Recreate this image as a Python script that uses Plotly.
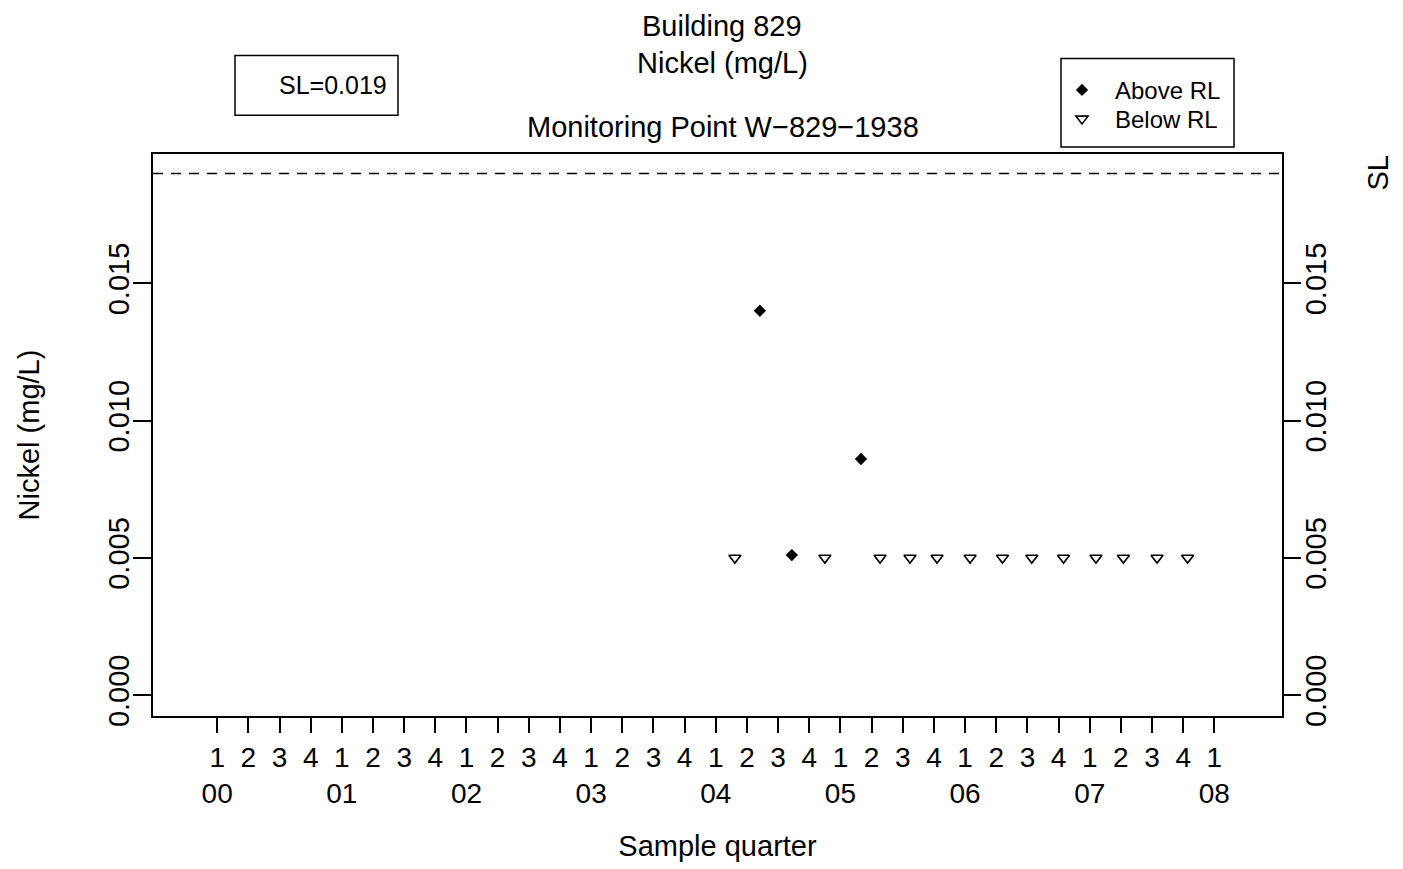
import plotly.graph_objects as go

# ---- data ----
title_line1 = "Building 829"
title_line2 = "Nickel (mg/L)"
subtitle = "Monitoring Point W\u2212829\u22121938"
sl_value = 0.019

above_x = [2004.354, 2004.61, 2005.165]
above_y = [0.014, 0.0051, 0.0086]

below_x = [2004.153, 2004.875, 2005.318, 2005.558, 2005.775, 2006.04, 2006.30,
           2006.535, 2006.79, 2007.05, 2007.27, 2007.54, 2007.785]
below_y = [0.005] * 13

years = ["00", "01", "02", "03", "04", "05", "06", "07", "08"]
quarters = ["1", "2", "3", "4"]
y_ticks = [0.0, 0.005, 0.010, 0.015]
y_ticktext = ["0.000", "0.005", "0.010", "0.015"]

# ---- tick construction ----
tickvals, ticktext = [], []
for i, yr in enumerate(years):
    for q in range(4):
        if i == len(years) - 1 and q > 0:
            break
        tickvals.append(2000 + i + q * 0.25)
        ticktext.append(quarters[q] + ("<br>" + yr if q == 0 else ""))

FONT = "Liberation Sans, Arial, Helvetica, sans-serif"
W, H = 1403, 869
L, R, T, B = 153, 121, 154, 150
pw, ph = W - L - R, H - T - B


def px(x):
    return (x - L) / pw


def py(y):
    return (H - B - y) / ph


fig = go.Figure()
fig.add_trace(go.Scatter(
    x=above_x, y=above_y, mode="markers", name="Above RL", legend="legend",
    marker=dict(symbol="diamond", size=9.5, color="black"),
))
fig.add_trace(go.Scatter(
    x=below_x, y=below_y, mode="markers", name="Below RL", legend="legend2",
    marker=dict(symbol="triangle-down-open", size=10.5, color="black",
                line=dict(width=1.6, color="black")),
))
# dummy trace for right axis
fig.add_trace(go.Scatter(x=[None], y=[None], yaxis="y2", showlegend=False, hoverinfo="skip"))

yr = [-0.00076, 0.01971]
leg_common = dict(xanchor="left", yanchor="middle", bgcolor="rgba(0,0,0,0)",
                  borderwidth=0, font=dict(size=24), itemwidth=56)

fig.update_layout(
    width=W, height=H,
    margin=dict(l=L, r=R, t=T, b=B),
    paper_bgcolor="white", plot_bgcolor="white",
    font=dict(family=FONT, size=29, color="black"),
    xaxis=dict(
        range=[1999.485, 2008.5425], tickmode="array", tickvals=tickvals, ticktext=ticktext,
        ticks="outside", ticklen=15, tickwidth=1.5, tickcolor="black",
        showline=True, linecolor="black", linewidth=1.8, mirror=True,
        showgrid=False, zeroline=False,
        tickfont=dict(size=28), tickangle=0,
        title=dict(text="Sample quarter", font=dict(size=29), standoff=28),
    ),
    yaxis=dict(
        range=yr, tickmode="array", tickvals=y_ticks, ticktext=y_ticktext,
        ticks="outside", ticklen=18, tickwidth=1.5, tickcolor="black",
        showline=True, linecolor="black", linewidth=1.8, mirror=True,
        showgrid=False, zeroline=False, tickangle=-90,
        tickfont=dict(size=29), ticklabelstandoff=-7,
        title=dict(text="Nickel (mg/L)", font=dict(size=29), standoff=54),
    ),
    yaxis2=dict(
        range=yr, overlaying="y", side="right", tickmode="array",
        tickvals=y_ticks, ticktext=y_ticktext,
        ticks="outside", ticklen=18, tickwidth=1.5, tickcolor="black",
        showline=False, showgrid=False, zeroline=False, tickangle=-90,
        tickfont=dict(size=29), ticklabelstandoff=-10,
    ),
    legend=dict(x=px(1049), y=py(90), **leg_common),
    legend2=dict(x=px(1049), y=py(119), **leg_common),
    showlegend=True,
)

# SL dashed line
fig.add_shape(type="line", xref="paper", x0=0, x1=1, yref="y", y0=sl_value, y1=sl_value,
              line=dict(color="black", width=1.3, dash="10px,8px"))

# legend box
fig.add_shape(type="rect", xref="paper", yref="paper",
              x0=px(1061), x1=px(1234), y0=py(147), y1=py(58),
              line=dict(color="black", width=1.5))
# SL box
fig.add_shape(type="rect", xref="paper", yref="paper",
              x0=px(235), x1=px(398), y0=py(115), y1=py(55),
              line=dict(color="black", width=1.5))
fig.add_annotation(xref="paper", yref="paper", x=px(389), y=py(85),
                   xanchor="right", yanchor="middle", showarrow=False,
                   text=f"SL={sl_value}", font=dict(size=25))

# titles
fig.add_annotation(xref="paper", yref="paper", x=px(722), y=py(25),
                   xanchor="center", yanchor="middle", showarrow=False,
                   text=title_line1, font=dict(size=29))
fig.add_annotation(xref="paper", yref="paper", x=px(722), y=py(63),
                   xanchor="center", yanchor="middle", showarrow=False,
                   text=title_line2, font=dict(size=29))
fig.add_annotation(xref="paper", yref="paper", x=px(723), y=py(127),
                   xanchor="center", yanchor="middle", showarrow=False,
                   text=subtitle, font=dict(size=29))

# right axis label "SL"
fig.add_annotation(xref="paper", yref="y", x=px(1378), y=sl_value,
                   xanchor="center", yanchor="middle", showarrow=False,
                   text="SL", textangle=-90, font=dict(size=29))

fig.write_html("out.html")
